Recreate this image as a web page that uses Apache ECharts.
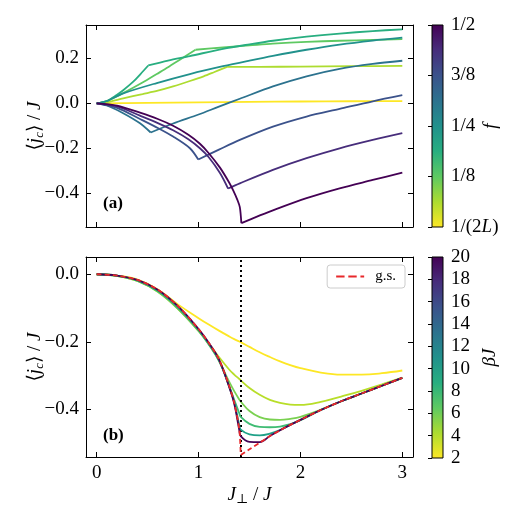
<!DOCTYPE html>
<html>
<head>
<meta charset="utf-8">
<script src="https://cdn.jsdelivr.net/npm/echarts@6/dist/echarts.min.js"></script>
<style>
  html, body { margin: 0; padding: 0; background: #fff; }
  #chart { width: 510px; height: 510px; }
</style>
</head>
<body>
<div id="chart"></div>
<script>
// панель (a): <j_c>/J от J_perp/J при разных f
const fLabels = ['1/(2L)', '1/8', '1/4', '3/8', '1/2'];
const fColors = ['#fde725', '#addc30', '#5ec962', '#28ae80', '#21918c', '#2c728e', '#3b528b', '#472d7b', '#440154'];

const fHalfL = [[0,0],[0.5,0.002],[1,0.004],[1.5,0.006],[2,0.008],[2.5,0.009],[3,0.01]];
const f1_16 = [[0,0],[0.1,0.005],[0.26,0.022],[0.45,0.041],[0.6,0.056],[0.75,0.075],[0.915,0.099],[1.05,0.12],[1.15,0.138],[1.28,0.162],[1.6,0.162],[2,0.163],[2.5,0.165],[3,0.166]];
const f2_16 = [[0,0],[0.1,0.01],[0.26,0.045],[0.45,0.092],[0.59,0.13],[0.7,0.16],[0.82,0.195],[0.97,0.238],[1.24,0.248],[1.5,0.257],[1.73,0.265],[2.06,0.273],[2.385,0.278],[2.71,0.282],[3,0.285]];
const f3_16 = [[0,0],[0.1,0.01],[0.196,0.037],[0.26,0.058],[0.359,0.096],[0.43,0.13],[0.506,0.168],[0.7,0.19],[0.915,0.21],[1.24,0.242],[1.5,0.262],[1.73,0.278],[2.06,0.296],[2.385,0.31],[2.71,0.321],[3,0.329]];
const f4_16 = [[0,0],[0.1,0.01],[0.26,0.044],[0.59,0.09],[0.915,0.13],[1.24,0.165],[1.5,0.19],[1.73,0.211],[2.06,0.238],[2.385,0.261],[2.71,0.279],[3,0.292]];
const f5_16 = [[0,0],[0.1,-0.01],[0.26,-0.044],[0.425,-0.089],[0.53,-0.13],[0.75,-0.09],[1.0,-0.05],[1.2,-0.015],[1.405,0.02],[1.73,0.075],[2.06,0.12],[2.385,0.153],[2.71,0.175],[3,0.189]];
const f6_16 = [[0,0],[0.2,-0.02],[0.425,-0.07],[0.6,-0.11],[0.75,-0.148],[0.915,-0.2],[0.997,-0.25],[1.2,-0.206],[1.405,-0.163],[1.73,-0.104],[2.06,-0.059],[2.385,-0.025],[2.71,0.009],[3,0.036]];
const f7_16 = [[0,0],[0.2,-0.014],[0.425,-0.055],[0.6,-0.088],[0.75,-0.12],[0.9,-0.16],[1.013,-0.2],[1.1,-0.24],[1.21,-0.31],[1.29,-0.379],[1.405,-0.356],[1.73,-0.296],[2.06,-0.244],[2.385,-0.2],[2.71,-0.163],[3,-0.133]];
const f8_16 = [[0,0],[0.2,-0.01],[0.425,-0.042],[0.6,-0.07],[0.75,-0.1],[0.9,-0.14],[1.013,-0.18],[1.1,-0.222],[1.21,-0.286],[1.3,-0.352],[1.34,-0.387],[1.38,-0.428],[1.405,-0.462],[1.42,-0.533],[1.55,-0.508],[1.73,-0.476],[2.06,-0.422],[2.385,-0.378],[2.71,-0.341],[3,-0.308]];
const fLines = [fHalfL, f1_16, f2_16, f3_16, f4_16, f5_16, f6_16, f7_16, f8_16];
// положение излома каждой кривой (x), null — без излома
const fKinkX = [null, 1.28, 0.97, 0.506, null, 0.53, 0.997, 1.29, 1.42];

// панель (b): конечная температура, betaJ = 2,4,6,8,10,20 и основное состояние
const bX = [0, 0.2, 0.4, 0.6, 0.8, 1.0, 1.1, 1.2, 1.3, 1.35, 1.4, 1.414, 1.5, 1.6, 1.7, 1.8, 1.9, 2.0, 2.2, 2.4, 2.6, 2.8, 3.0];
const groundState = [0,-0.004,-0.017,-0.046,-0.095,-0.162,-0.203,-0.252,-0.33,-0.38,-0.46,-0.535,-0.518,-0.499,-0.479,-0.462,-0.446,-0.431,-0.402,-0.376,-0.353,-0.33,-0.307];
const beta2  = [0,-0.004,-0.016,-0.045,-0.09,-0.13,-0.149,-0.167,-0.184,-0.192,-0.199,-0.201,-0.215,-0.231,-0.245,-0.258,-0.269,-0.278,-0.291,-0.297,-0.297,-0.293,-0.285];
const beta4  = [0,-0.005,-0.02,-0.052,-0.103,-0.168,-0.205,-0.245,-0.282,-0.297,-0.31,-0.314,-0.337,-0.357,-0.372,-0.381,-0.386,-0.387,-0.378,-0.362,-0.345,-0.326,-0.306];
const beta6  = [0,-0.005,-0.02,-0.052,-0.103,-0.168,-0.208,-0.256,-0.318,-0.346,-0.371,-0.377,-0.405,-0.423,-0.43,-0.431,-0.428,-0.422,-0.401,-0.376,-0.353,-0.33,-0.307];
const beta8  = [0,-0.005,-0.019,-0.05,-0.1,-0.166,-0.207,-0.256,-0.33,-0.372,-0.412,-0.422,-0.443,-0.452,-0.453,-0.451,-0.444,-0.432,-0.402,-0.376,-0.353,-0.33,-0.307];
const beta10 = [0,-0.004,-0.018,-0.048,-0.098,-0.164,-0.205,-0.254,-0.332,-0.378,-0.447,-0.46,-0.474,-0.477,-0.472,-0.461,-0.446,-0.431,-0.402,-0.376,-0.353,-0.33,-0.307];
const beta20 = [0,-0.004,-0.017,-0.046,-0.095,-0.162,-0.203,-0.252,-0.333,-0.383,-0.462,-0.479,-0.496,-0.497,-0.479,-0.462,-0.446,-0.431,-0.402,-0.376,-0.353,-0.33,-0.307];
const betaLines = [beta2, beta4, beta6, beta8, beta10, beta20];
const betaColors = ['#fde725', '#b8de29', '#7ad151', '#3fbc73', '#1fa188', '#440154'];
const critX = 1.414; // sqrt(2)

const topTicks = [-0.4, -0.2, 0, 0.2];
const botTicks = [-0.4, -0.2, 0];
const xTicks = [0, 1, 2, 3];

const FONT = "'Liberation Serif', 'DejaVu Serif', serif";
const FS = 19;
const LW = 1.8;
const viridisStops = [
  { offset: 0, color: '#440154' }, { offset: 0.125, color: '#472d7b' },
  { offset: 0.25, color: '#3b528b' }, { offset: 0.375, color: '#2c728e' },
  { offset: 0.5, color: '#21918c' }, { offset: 0.625, color: '#28ae80' },
  { offset: 0.75, color: '#5ec962' }, { offset: 0.875, color: '#addc30' },
  { offset: 1, color: '#fde725' },
];

const gridA = { left: 86, top: 25, width: 327, height: 202 };
const gridB = { left: 86, top: 257, width: 327, height: 200 };
const cbA = { left: 432, top: 25, width: 11, height: 202 };
const cbB = { left: 432, top: 257, width: 11, height: 201 };

const fmtNum = (v) => (v < 0 ? '\u2212' : '') + Math.abs(v).toFixed(1);
const lineC = { onZero: false, lineStyle: { color: '#000', width: 1 } };
const tickIn = (vals) => ({ show: true, inside: true, length: 5, customValues: vals, lineStyle: { color: '#000', width: 1 } });
const rich = {
  t: { fontFamily: FONT, fontSize: FS, color: '#000' },
  i: { fontFamily: FONT, fontSize: FS, fontStyle: 'italic', color: '#000' },
  s: { fontFamily: FONT, fontSize: 13, fontStyle: 'italic', color: '#000', padding: [9, 0, 0, 0] },
};

function xAx(gridIndex, position, labels) {
  return {
    gridIndex, position, type: 'value', min: -0.105, max: 3.105,
    axisLine: lineC, axisTick: tickIn(xTicks), splitLine: { show: false },
    axisLabel: labels
      ? { show: true, customValues: xTicks, fontFamily: FONT, fontSize: FS, color: '#000', margin: 7 }
      : { show: false },
  };
}
function yAx(gridIndex, position, min, max, ticks, labels) {
  return {
    gridIndex, position, type: 'value', min, max,
    axisLine: lineC, axisTick: tickIn(ticks), splitLine: { show: false },
    axisLabel: labels
      ? { show: true, customValues: ticks, formatter: fmtNum, fontFamily: FONT, fontSize: FS, color: '#000', margin: 7 }
      : { show: false },
  };
}

const series = [];
fLines.forEach((d, k) => {
  const base = { type: 'line', xAxisIndex: 0, yAxisIndex: 0, symbol: 'none', smooth: 0.3,
    lineStyle: { color: fColors[k], width: LW }, z: 2 + k };
  const kx = fKinkX[k];
  if (kx == null) {
    series.push(Object.assign({}, base, { data: d }));
  } else {
    const ki = d.findIndex((p) => p[0] === kx);
    series.push(Object.assign({}, base, { data: d.slice(0, ki + 1) }));
    series.push(Object.assign({}, base, { data: d.slice(ki) }));
  }
});
betaLines.forEach((d, k) => {
  series.push({
    type: 'line', xAxisIndex: 2, yAxisIndex: 2, data: bX.map((x, i) => [x, d[i]]), symbol: 'none',
    smooth: 0.4,
    lineStyle: { color: betaColors[k], width: LW }, z: 2 + k,
  });
});
const gsPts = bX.map((x, i) => [x, groundState[i]]);
const gsKink = bX.indexOf(critX);
const gsStyle = { color: '#e8282b', width: LW, type: [5, 3] };
series.push({
  name: 'g.s.', type: 'line', xAxisIndex: 2, yAxisIndex: 2,
  data: gsPts.slice(0, gsKink + 1), symbol: 'none', smooth: 0.3,
  lineStyle: gsStyle, itemStyle: { color: '#e8282b' }, z: 20,
  markLine: {
    silent: true, symbol: 'none', label: { show: false },
    lineStyle: { color: '#000', width: 2, type: [2, 3] },
    data: [{ xAxis: critX }],
  },
});
series.push({
  type: 'line', xAxisIndex: 2, yAxisIndex: 2,
  data: gsPts.slice(gsKink), symbol: 'none', smooth: 0.3,
  lineStyle: gsStyle, z: 20,
});

function cbRect(g) {
  return {
    type: 'rect', shape: { x: g.left, y: g.top, width: g.width, height: g.height },
    style: { fill: new echarts.graphic.LinearGradient(0, 0, 0, 1, viridisStops), stroke: '#000', lineWidth: 1 },
    z: 0,
  };
}

const yName = '{t|\u27E8}{i|j}{s|c}{t|\u27E9 / }{i|J}';

const option = {
  backgroundColor: '#fff',
  animation: false,
  grid: [gridA, gridB, cbA, cbB],
  xAxis: [
    xAx(0, 'bottom', false),
    xAx(0, 'top', false),
    Object.assign(xAx(1, 'bottom', true), {
      name: '{i|J}{s|\u22A5}{t| / }{i|J}', nameLocation: 'middle', nameGap: 27, nameMoveOverlap: false,
      nameTextStyle: { rich },
    }),
    xAx(1, 'top', false),
    { gridIndex: 2, type: 'value', min: 0, max: 1, show: false },
    { gridIndex: 3, type: 'value', min: 0, max: 1, show: false },
  ],
  yAxis: [
    Object.assign(yAx(0, 'left', -0.55, 0.348, topTicks, true), {
      name: yName, nameLocation: 'middle', nameGap: 40, nameRotate: 90, nameMoveOverlap: false,
      nameTextStyle: { rich },
    }),
    yAx(0, 'right', -0.55, 0.348, topTicks, false),
    Object.assign(yAx(1, 'left', -0.541, 0.051, botTicks, true), {
      name: yName, nameLocation: 'middle', nameGap: 40, nameRotate: 90, nameMoveOverlap: false,
      nameTextStyle: { rich },
    }),
    yAx(1, 'right', -0.541, 0.051, botTicks, false),
    {
      gridIndex: 2, position: 'right', type: 'value', min: 0, max: 4, interval: 1,
      axisLine: { show: false }, splitLine: { show: false },
      axisTick: { show: true, inside: true, length: 4, lineStyle: { color: '#000' } },
      axisLabel: {
        fontFamily: FONT, fontSize: FS, color: '#000', margin: 8,
        formatter: (v) => fLabels[v].replace('L', '{i|L}'),
        rich: { i: { fontFamily: FONT, fontSize: FS, fontStyle: 'italic', color: '#000' } },
      },
      name: '{i|f}', nameLocation: 'middle', nameGap: 38, nameRotate: 90, nameMoveOverlap: false,
      nameTextStyle: { rich },
    },
    {
      gridIndex: 3, position: 'right', type: 'value', min: 2, max: 20, interval: 2,
      axisLine: { show: false }, splitLine: { show: false },
      axisTick: { show: true, inside: true, length: 4, lineStyle: { color: '#000' } },
      axisLabel: { fontFamily: FONT, fontSize: FS, color: '#000', margin: 8 },
      name: '{i|\u03B2J}', nameLocation: 'middle', nameGap: 37, nameRotate: 90, nameMoveOverlap: false,
      nameTextStyle: { rich },
    },
  ],
  legend: {
    data: [{ name: 'g.s.', icon: 'path://M0,0H9V2H0Z M13,0H22V2H13Z M26,0H30V2H26Z' }],
    right: 105, top: 265, orient: 'vertical',
    itemWidth: 28, itemHeight: 2, itemGap: 4,
    padding: [4, 9], borderColor: '#cccccc', borderWidth: 1, borderRadius: 3,
    backgroundColor: 'rgba(255,255,255,0.8)',
    itemStyle: { color: '#e8282b' },
    textStyle: { fontFamily: FONT, fontSize: 15, color: '#000', padding: [0, 0, 0, 6] },
  },
  graphic: [
    cbRect(cbA),
    cbRect(cbB),
    { type: 'text', left: 103, top: 195, style: { text: '(a)', font: `bold 17px ${FONT}`, fill: '#000' } },
    { type: 'text', left: 103, top: 427, style: { text: '(b)', font: `bold 17px ${FONT}`, fill: '#000' } },
  ],
  series,
};

const chart = echarts.init(document.getElementById('chart'));
chart.setOption(option);
</script>
</body>
</html>
